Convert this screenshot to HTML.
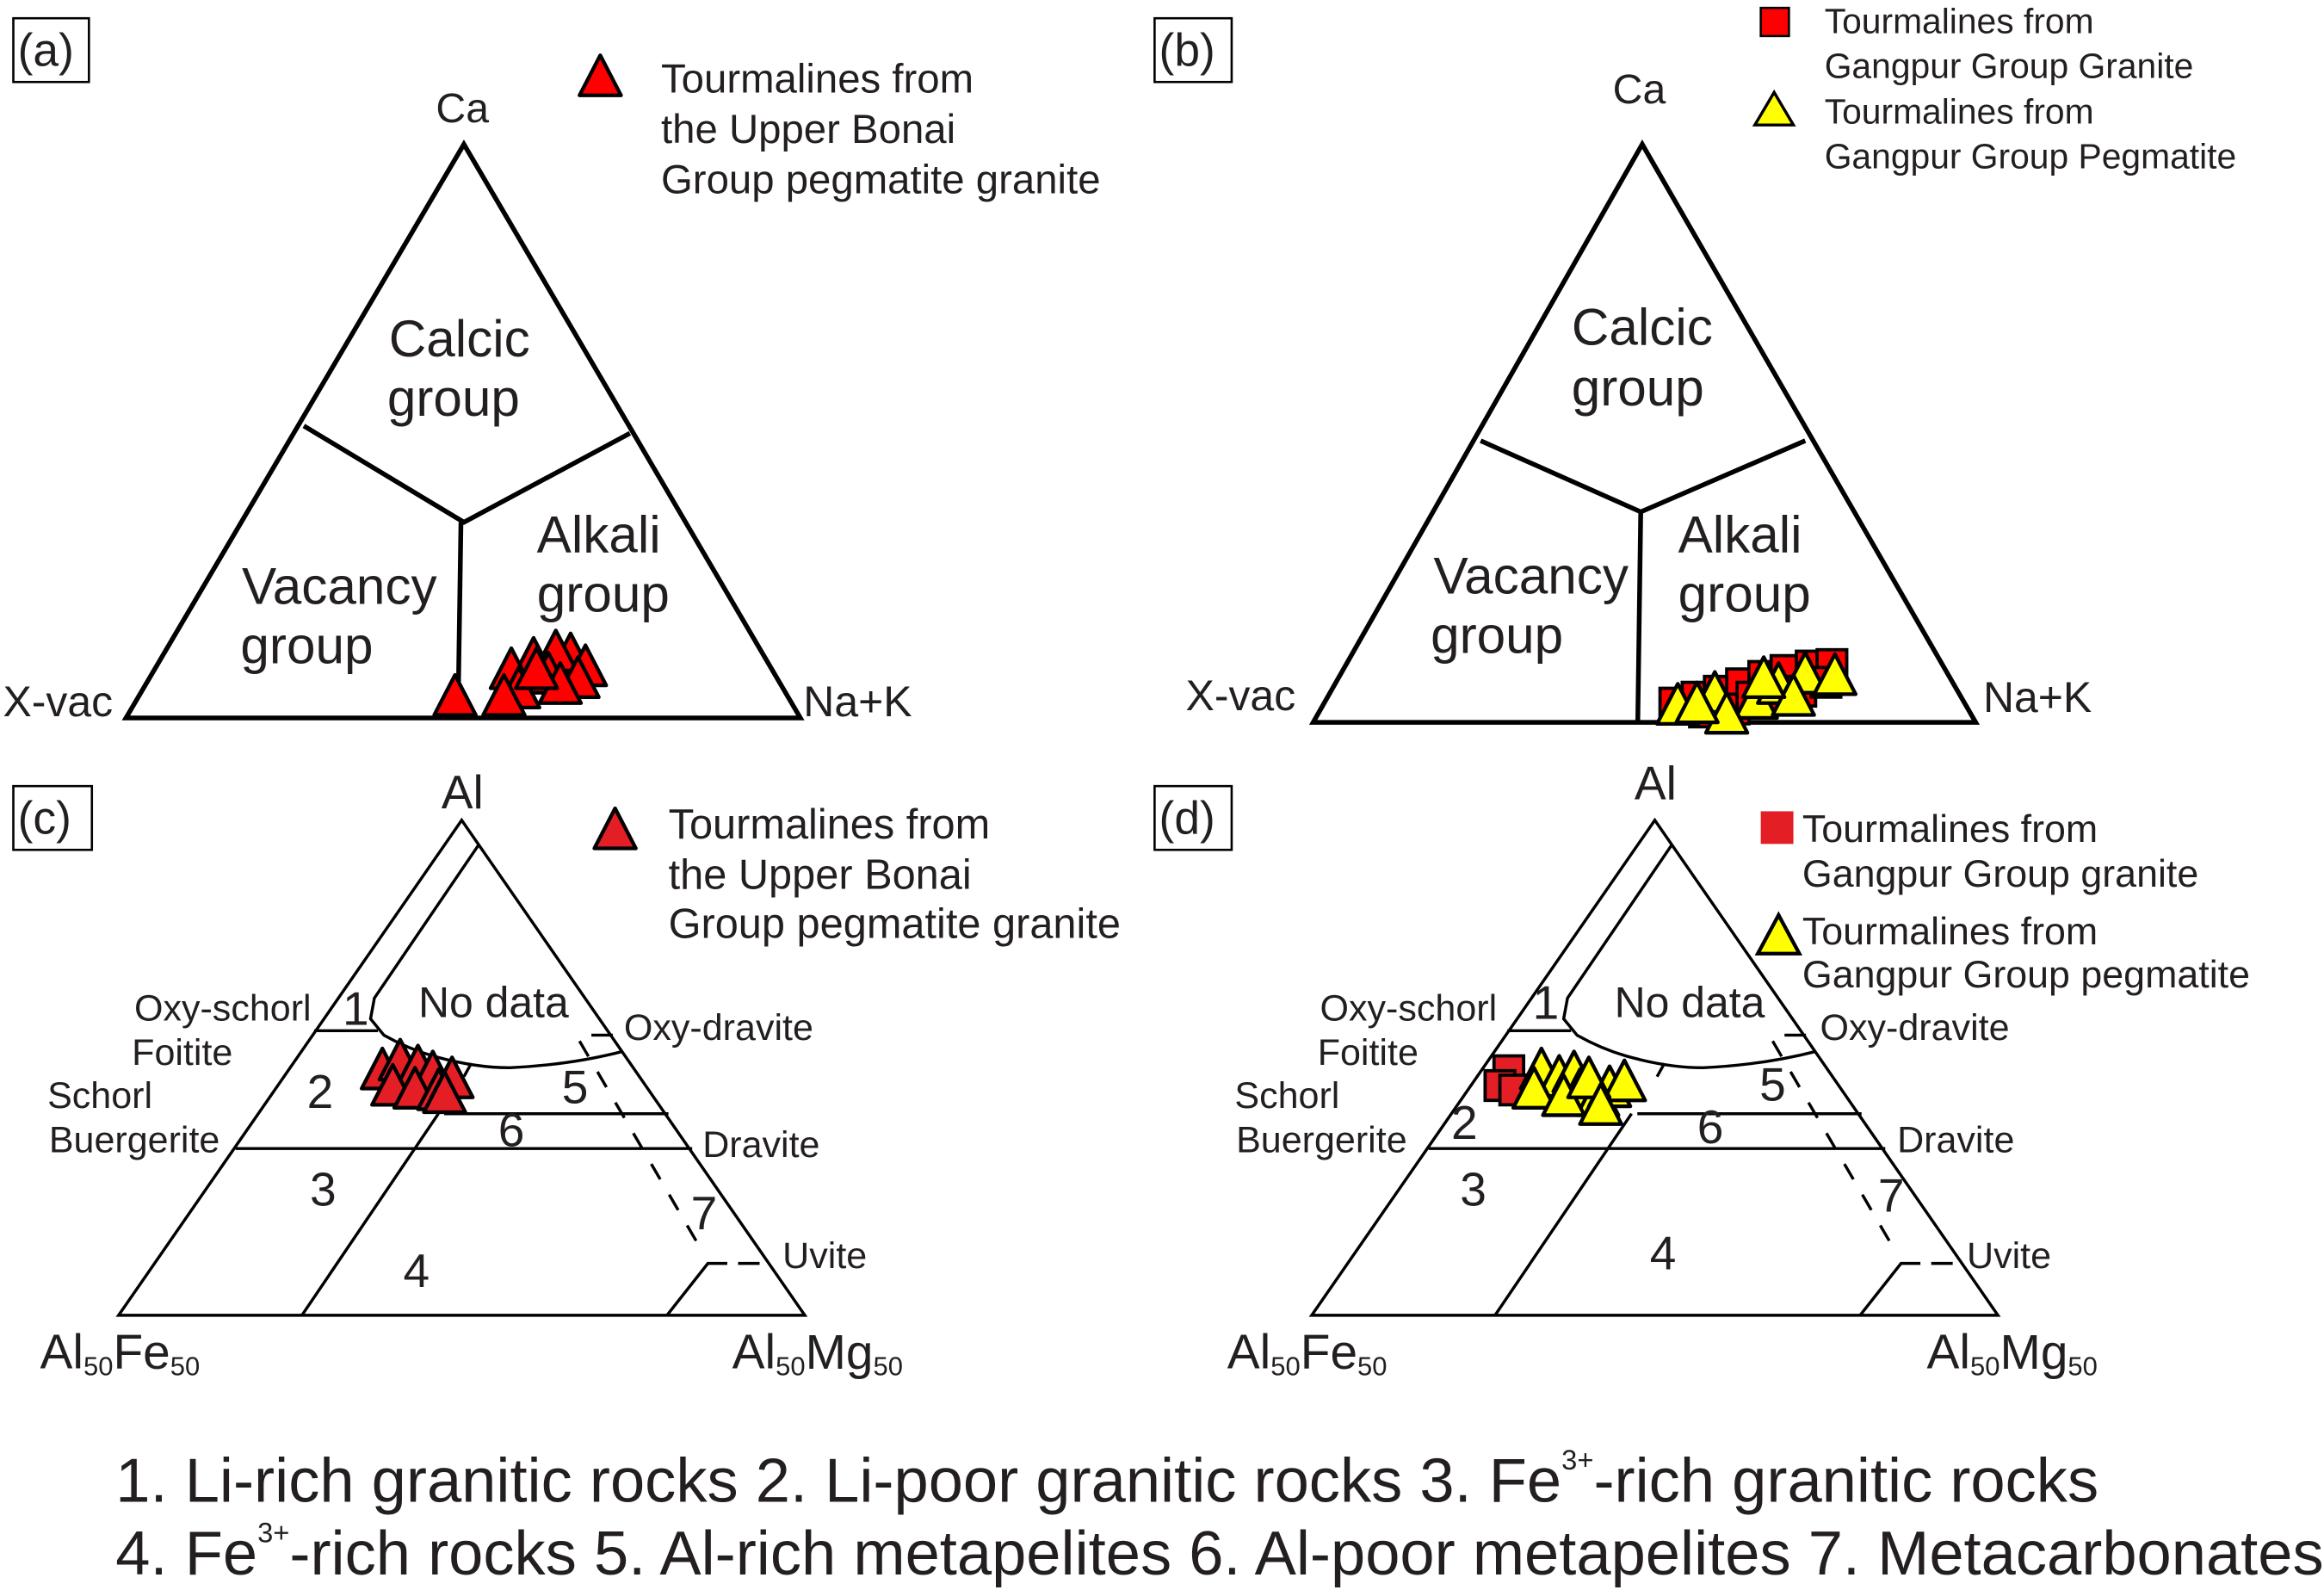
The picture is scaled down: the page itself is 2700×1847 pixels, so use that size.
<!DOCTYPE html>
<html><head><meta charset="utf-8"><style>html,body{margin:0;padding:0;background:#fff}svg{display:block}</style></head>
<body>
<svg xmlns="http://www.w3.org/2000/svg" width="2700" height="1847" viewBox="0 0 1568 1072" font-family="Liberation Sans, sans-serif" fill="#231f20">
<defs>
<polygon id="tr" points="0,-15 -14,12 14,12" stroke="#000" stroke-width="2.5" stroke-linejoin="round"/>
<rect id="sq" x="-10" y="-10" width="20" height="20" stroke="#000" stroke-width="2.2"/>
</defs>
<rect width="1568" height="1072" fill="#fff"/>
<g fill="none" stroke="#000">
<rect x="9" y="12" width="51" height="43" stroke-width="1.5"/>
<rect x="779" y="12" width="52" height="43" stroke-width="1.5"/>
<rect x="9" y="530" width="53" height="43" stroke-width="1.5"/>
<rect x="779" y="530" width="52" height="43" stroke-width="1.5"/>
<g stroke-width="3.2"><polygon points="313,97 85,484 540,484"/><polyline points="205,287 313,352 425,292"/><line x1="311" y1="352" x2="309" y2="484"/></g>
<g stroke-width="3.2"><polygon points="1108,97 886,487 1333,487"/><polyline points="999,297 1107,345 1218,297"/><line x1="1107" y1="345" x2="1105" y2="487"/></g>
<g id="tc" stroke-width="2">
<polygon points="311.5,553 80,887 543,887"/>
<path d="M322.7,570 L252.6,673 L250,687 L259,698 Q275,707 291.9,712 Q320,720 344,720 Q385,718 420,709"/>
<line x1="212" y1="695" x2="255" y2="695"/>
<line x1="318" y1="717" x2="313" y2="726"/>
<line x1="299.7" y1="751" x2="451" y2="751"/>
<line x1="159" y1="774.5" x2="467" y2="774.5"/>
<line x1="295.8" y1="751" x2="203.7" y2="887"/>
<line x1="391" y1="702" x2="471" y2="839" stroke-dasharray="12,12"/>
<line x1="399" y1="698" x2="413.5" y2="698"/>
<polyline points="450,887 477.6,852 490.7,852"/>
<line x1="498" y1="852" x2="512.5" y2="852"/>
</g>
<use href="#tc" x="805"/>
</g>
<g fill="#ff0000">
<use href="#tr" x="307" y="470"/><use href="#tr" x="385" y="442"/><use href="#tr" x="395" y="450"/><use href="#tr" x="375" y="440"/>
<use href="#tr" x="360" y="445"/><use href="#tr" x="345" y="452"/><use href="#tr" x="390" y="458"/><use href="#tr" x="370" y="455"/>
<use href="#tr" x="350" y="465"/><use href="#tr" x="340" y="470"/><use href="#tr" x="378" y="462"/><use href="#tr" x="362" y="452"/>
</g>
<g fill="#ff0000">
<use href="#sq" x="1130" y="474"/><use href="#sq" x="1145" y="470"/><use href="#sq" x="1160" y="466"/><use href="#sq" x="1175" y="461"/>
<use href="#sq" x="1190" y="456"/><use href="#sq" x="1205" y="452"/><use href="#sq" x="1222" y="449"/><use href="#sq" x="1236" y="448"/>
<use href="#sq" x="1150" y="480"/><use href="#sq" x="1170" y="478"/><use href="#sq" x="1195" y="472"/><use href="#sq" x="1215" y="466"/>
<use href="#sq" x="1232" y="460"/><use href="#sq" x="1182" y="470"/>
</g>
<g fill="#ffff00">
<use href="#tr" x="1132" y="476"/><use href="#tr" x="1157" y="468"/><use href="#tr" x="1185" y="472"/><use href="#tr" x="1200" y="462"/>
<use href="#tr" x="1218" y="455"/><use href="#tr" x="1238" y="456"/><use href="#tr" x="1165" y="482"/><use href="#tr" x="1210" y="470"/>
<use href="#tr" x="1190" y="458"/><use href="#tr" x="1145" y="475"/>
</g>
<g fill="#e31e24">
<use href="#tr" x="258" y="722"/><use href="#tr" x="270" y="716"/><use href="#tr" x="282" y="720"/><use href="#tr" x="292" y="724"/>
<use href="#tr" x="265" y="733"/><use href="#tr" x="280" y="735"/><use href="#tr" x="296" y="736"/><use href="#tr" x="305" y="728"/>
<use href="#tr" x="300" y="738"/>
</g>
<g fill="#e31e24"><use href="#sq" x="1018" y="722"/><use href="#sq" x="1012" y="732"/><use href="#sq" x="1022" y="735"/></g>
<g fill="#ffff00">
<use href="#tr" x="1040" y="722"/><use href="#tr" x="1052" y="727"/><use href="#tr" x="1062" y="724"/><use href="#tr" x="1035" y="735"/>
<use href="#tr" x="1066" y="736"/><use href="#tr" x="1078" y="740"/><use href="#tr" x="1086" y="734"/><use href="#tr" x="1096" y="730"/>
<use href="#tr" x="1055" y="740"/><use href="#tr" x="1072" y="728"/><use href="#tr" x="1080" y="746"/>
</g>
<use href="#tr" x="405" y="52" fill="#ff0000"/>
<rect x="1188" y="5" width="19" height="19" fill="#ff0000" stroke="#000" stroke-width="1.5"/>
<polygon points="1197,62 1184,84 1210,84" fill="#ffff00" stroke="#000" stroke-width="2"/>
<use href="#tr" x="415" y="560" fill="#e31e24"/>
<rect x="1188" y="547" width="22" height="22" fill="#e31e24"/>
<polygon points="1200,617 1186,643 1214,643" fill="#ffff00" stroke="#000" stroke-width="2.5"/>
<g dominant-baseline="central">
<text x="12" y="34" font-size="31">(a)</text><text x="782" y="34" font-size="31">(b)</text>
<text x="12" y="552" font-size="31">(c)</text><text x="782" y="552" font-size="31">(d)</text>
<g font-size="27.5"><text x="446" y="53">Tourmalines from</text><text x="446" y="87">the Upper Bonai</text><text x="446" y="121">Group pegmatite granite</text></g>
<g font-size="23.7"><text x="1231" y="14">Tourmalines from</text><text x="1231" y="44">Gangpur Group Granite</text><text x="1231" y="75">Tourmalines from</text><text x="1231" y="105">Gangpur Group Pegmatite</text></g>
<g font-size="28.3"><text x="451" y="556">Tourmalines from</text><text x="451" y="590">the Upper Bonai</text><text x="451" y="623">Group pegmatite granite</text></g>
<g font-size="26"><text x="1216" y="559">Tourmalines from</text><text x="1216" y="589">Gangpur Group granite</text><text x="1216" y="628">Tourmalines from</text><text x="1216" y="657">Gangpur Group pegmatite</text></g>
<g font-size="28" text-anchor="middle"><text x="312" y="73">Ca</text><text x="1106" y="60">Ca</text></g>
<g font-size="29"><text x="2" y="473">X-vac</text><text x="542" y="473">Na+K</text><text x="800" y="469">X-vac</text><text x="1338" y="470">Na+K</text></g>
<g font-size="35" text-anchor="middle">
<text x="310" y="228">Calcic</text><text x="306" y="268">group</text>
<text x="229" y="395">Vacancy</text><text x="207" y="435">group</text>
<text x="404" y="360">Alkali</text><text x="407" y="400">group</text>
<text x="1108" y="220">Calcic</text><text x="1105" y="261">group</text>
<text x="1033" y="388">Vacancy</text><text x="1010" y="428">group</text>
<text x="1174" y="360">Alkali</text><text x="1177" y="400">group</text>
</g>
<g font-size="32" text-anchor="middle"><text x="312" y="534">Al</text><text x="1117" y="528">Al</text></g>
<g font-size="25">
<text x="210" y="680" text-anchor="end">Oxy-schorl</text><text x="157" y="710" text-anchor="end">Foitite</text>
<text x="32" y="739">Schorl</text><text x="33" y="769">Buergerite</text>
<text x="421" y="693">Oxy-dravite</text><text x="474" y="772">Dravite</text><text x="528" y="847">Uvite</text>
<text x="1010" y="680" text-anchor="end">Oxy-schorl</text><text x="957" y="710" text-anchor="end">Foitite</text>
<text x="833" y="739">Schorl</text><text x="834" y="769">Buergerite</text>
<text x="1228" y="693">Oxy-dravite</text><text x="1280" y="769">Dravite</text><text x="1327" y="847">Uvite</text>
</g>
<g font-size="29" text-anchor="middle"><text x="333" y="676">No data</text><text x="1140" y="676">No data</text></g>
<g font-size="32" text-anchor="middle">
<text x="240" y="680">1</text><text x="216" y="736">2</text><text x="388" y="733">5</text><text x="345" y="762">6</text>
<text x="218" y="802">3</text><text x="475" y="818">7</text><text x="281" y="857">4</text>
<text x="1043" y="676">1</text><text x="988" y="757">2</text><text x="1196" y="731">5</text><text x="1154" y="760">6</text>
<text x="994" y="802">3</text><text x="1276" y="806">7</text><text x="1122" y="845">4</text>
</g>
<g font-size="33">
<text x="27" y="912">Al<tspan font-size="18" dy="9">50</tspan><tspan dy="-9">Fe</tspan><tspan font-size="18" dy="9">50</tspan></text>
<text x="494" y="912">Al<tspan font-size="18" dy="9">50</tspan><tspan dy="-9">Mg</tspan><tspan font-size="18" dy="9">50</tspan></text>
<text x="828" y="912">Al<tspan font-size="18" dy="9">50</tspan><tspan dy="-9">Fe</tspan><tspan font-size="18" dy="9">50</tspan></text>
<text x="1300" y="912">Al<tspan font-size="18" dy="9">50</tspan><tspan dy="-9">Mg</tspan><tspan font-size="18" dy="9">50</tspan></text>
</g>
<g font-size="42">
<text x="78" y="999">1. Li-rich granitic rocks 2. Li-poor granitic rocks 3. Fe<tspan font-size="19" dy="-15">3+</tspan><tspan dy="15">-rich granitic rocks</tspan></text>
<text x="78" y="1048">4. Fe<tspan font-size="19" dy="-15">3+</tspan><tspan dy="15">-rich rocks 5. Al-rich metapelites 6. Al-poor metapelites 7. Metacarbonates</tspan></text>
</g>
</g>
</svg>
</body></html>
